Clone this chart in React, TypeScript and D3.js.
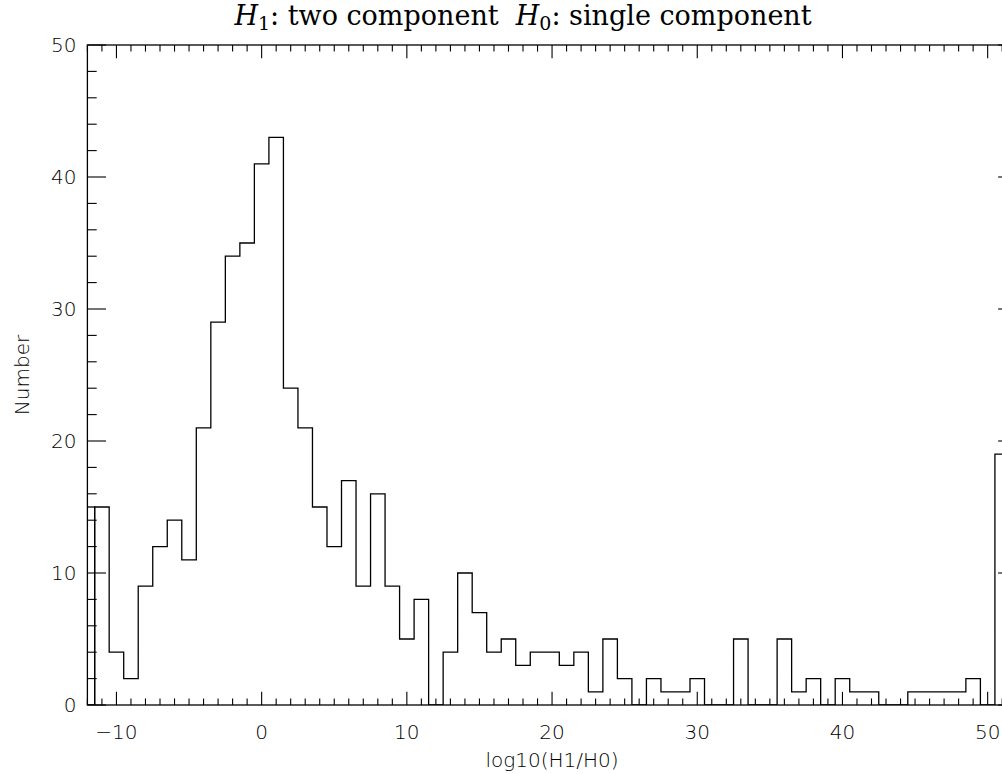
import React from "react";
import * as d3 from "d3";

// ---- data ----
const firstBinCenter = -11;
const counts = [
  15, 4, 2, 9, 12, 14, 11, 21, 29, 34, 35, 41, 43, 24, 21, 15, 12, 17, 9, 16,
  9, 5, 8, 0, 4, 10, 7, 4, 5, 3, 4, 4, 3, 4, 1, 5, 2, 0, 2, 1, 1, 2, 0, 0, 5,
  0, 0, 5, 1, 2, 0, 2, 1, 1, 0, 0, 1, 1, 1, 1, 2, 0, 19,
];
// underflow bin (values below the first bin), drawn at its own centre
const underflowCenter = -12;
const underflowCount = 15;
const binWidth = 1;

const xDomain = [-12, 52];
const yDomain = [0, 50];
const xMajorTicks = [-10, 0, 10, 20, 30, 40, 50];
const xTickLabels = ["\u221210", "0", "10", "20", "30", "40", "50"];
const yMajorTicks = [0, 10, 20, 30, 40, 50];
const yTickLabels = ["0", "10", "20", "30", "40", "50"];
const xMinorStep = 1;
const yMinorStep = 2;

const W = 1002;
const H = 774;
const left = 87.4;
const right = 1016.7;
const top = 45;
const bottom = 705;

const sansFont = "'DejaVu Sans', sans-serif";
const serifFont = "'DejaVu Serif', serif";

export default function App() {
  const x = d3.scaleLinear().domain(xDomain).range([left, right]);
  const y = d3.scaleLinear().domain(yDomain).range([bottom, top]);

  const plotW = right - left;
  const plotH = bottom - top;
  const xMajLen = 0.02 * plotH;
  const xMinLen = 0.01 * plotH;
  const yMajLen = 0.02 * plotW;
  const yMinLen = 0.01 * plotW;

  const xMinor = d3.range(xDomain[0], xDomain[1] + 0.001, xMinorStep);
  const yMinor = d3.range(yDomain[0], yDomain[1] + 0.001, yMinorStep);

  // step outline of the histogram
  const pts: [number, number][] = [];
  pts.push([firstBinCenter - binWidth / 2, 0]);
  counts.forEach((c, i) => {
    const cx = firstBinCenter + i * binWidth;
    pts.push([cx - binWidth / 2, c]);
    pts.push([cx + binWidth / 2, c]);
  });
  pts.push([firstBinCenter + (counts.length - 0.5) * binWidth, 0]);
  const line = d3
    .line<[number, number]>()
    .x((d) => x(d[0]))
    .y((d) => y(d[1]));

  const stroke = "#000";
  const sw = 1.3;
  const labelSize = 20;

  return (
    <svg
      width={W}
      height={H}
      style={{ position: "absolute", left: 0, top: 0, background: "#fff" }}
    >
      <rect x={0} y={0} width={W} height={H} fill="#fff" />
      <defs>
        <clipPath id="plotclip">
          <rect x={left} y={top} width={plotW} height={plotH} />
        </clipPath>
      </defs>

      {/* title */}
      <text
        x={523}
        y={25}
        textAnchor="middle"
        fontFamily={serifFont}
        fontSize={27}
        fill="#000"
        style={{ whiteSpace: "pre" }}
        xmlSpace="preserve"
      >
        <tspan fontStyle="italic">H</tspan>
        <tspan fontSize={19} dy={5}>1</tspan>
        <tspan dy={-5}>{": two component  "}</tspan>
        <tspan fontStyle="italic">H</tspan>
        <tspan fontSize={19} dy={5}>0</tspan>
        <tspan dy={-5}>{": single component"}</tspan>
      </text>

      {/* histogram */}
      <g clipPath="url(#plotclip)">
        <path d={line(pts) || ""} fill="none" stroke={stroke} strokeWidth={sw} />
        <rect
          x={x(underflowCenter - binWidth / 2)}
          y={y(underflowCount)}
          width={x(underflowCenter + binWidth / 2) - x(underflowCenter - binWidth / 2)}
          height={y(0) - y(underflowCount)}
          fill="none"
          stroke={stroke}
          strokeWidth={sw}
        />
      </g>

      {/* frame */}
      <rect
        x={left}
        y={top}
        width={plotW}
        height={plotH}
        fill="none"
        stroke={stroke}
        strokeWidth={sw}
      />

      {/* x ticks bottom and top */}
      {xMinor.map((v) => {
        const major = xMajorTicks.includes(v);
        const len = major ? xMajLen : xMinLen;
        return (
          <g key={"xt" + v}>
            <line x1={x(v)} x2={x(v)} y1={bottom} y2={bottom - len} stroke={stroke} strokeWidth={1.1} />
            <line x1={x(v)} x2={x(v)} y1={top} y2={top + len} stroke={stroke} strokeWidth={1.1} />
          </g>
        );
      })}
      {/* y ticks left and right */}
      {yMinor.map((v) => {
        const major = yMajorTicks.includes(v);
        const len = major ? yMajLen : yMinLen;
        return (
          <g key={"yt" + v}>
            <line x1={left} x2={left + len} y1={y(v)} y2={y(v)} stroke={stroke} strokeWidth={1.1} />
            <line x1={right} x2={right - len} y1={y(v)} y2={y(v)} stroke={stroke} strokeWidth={1.1} />
          </g>
        );
      })}

      {/* x tick labels */}
      {xMajorTicks.map((v, i) => (
        <text
          key={"xl" + v}
          x={x(v)}
          y={739}
          textAnchor="middle"
          fontFamily={sansFont}
          fontWeight={200}
          fontSize={labelSize}
          fill="#000"
        >
          {xTickLabels[i]}
        </text>
      ))}
      {/* y tick labels */}
      {yMajorTicks.map((v, i) => (
        <text
          key={"yl" + v}
          x={left - 11}
          y={y(v) + 7}
          textAnchor="end"
          fontFamily={sansFont}
          fontWeight={200}
          fontSize={labelSize}
          fill="#000"
        >
          {yTickLabels[i]}
        </text>
      ))}

      {/* axis titles */}
      <text
        x={(left + right) / 2}
        y={767}
        textAnchor="middle"
        fontFamily={sansFont}
        fontWeight={200}
        fontSize={labelSize}
        fill="#000"
      >
        log10(H1/H0)
      </text>
      <text
        transform={`translate(29, ${(top + bottom) / 2}) rotate(-90)`}
        textAnchor="middle"
        fontFamily={sansFont}
        fontWeight={200}
        fontSize={labelSize}
        fill="#000"
      >
        Number
      </text>
    </svg>
  );
}
